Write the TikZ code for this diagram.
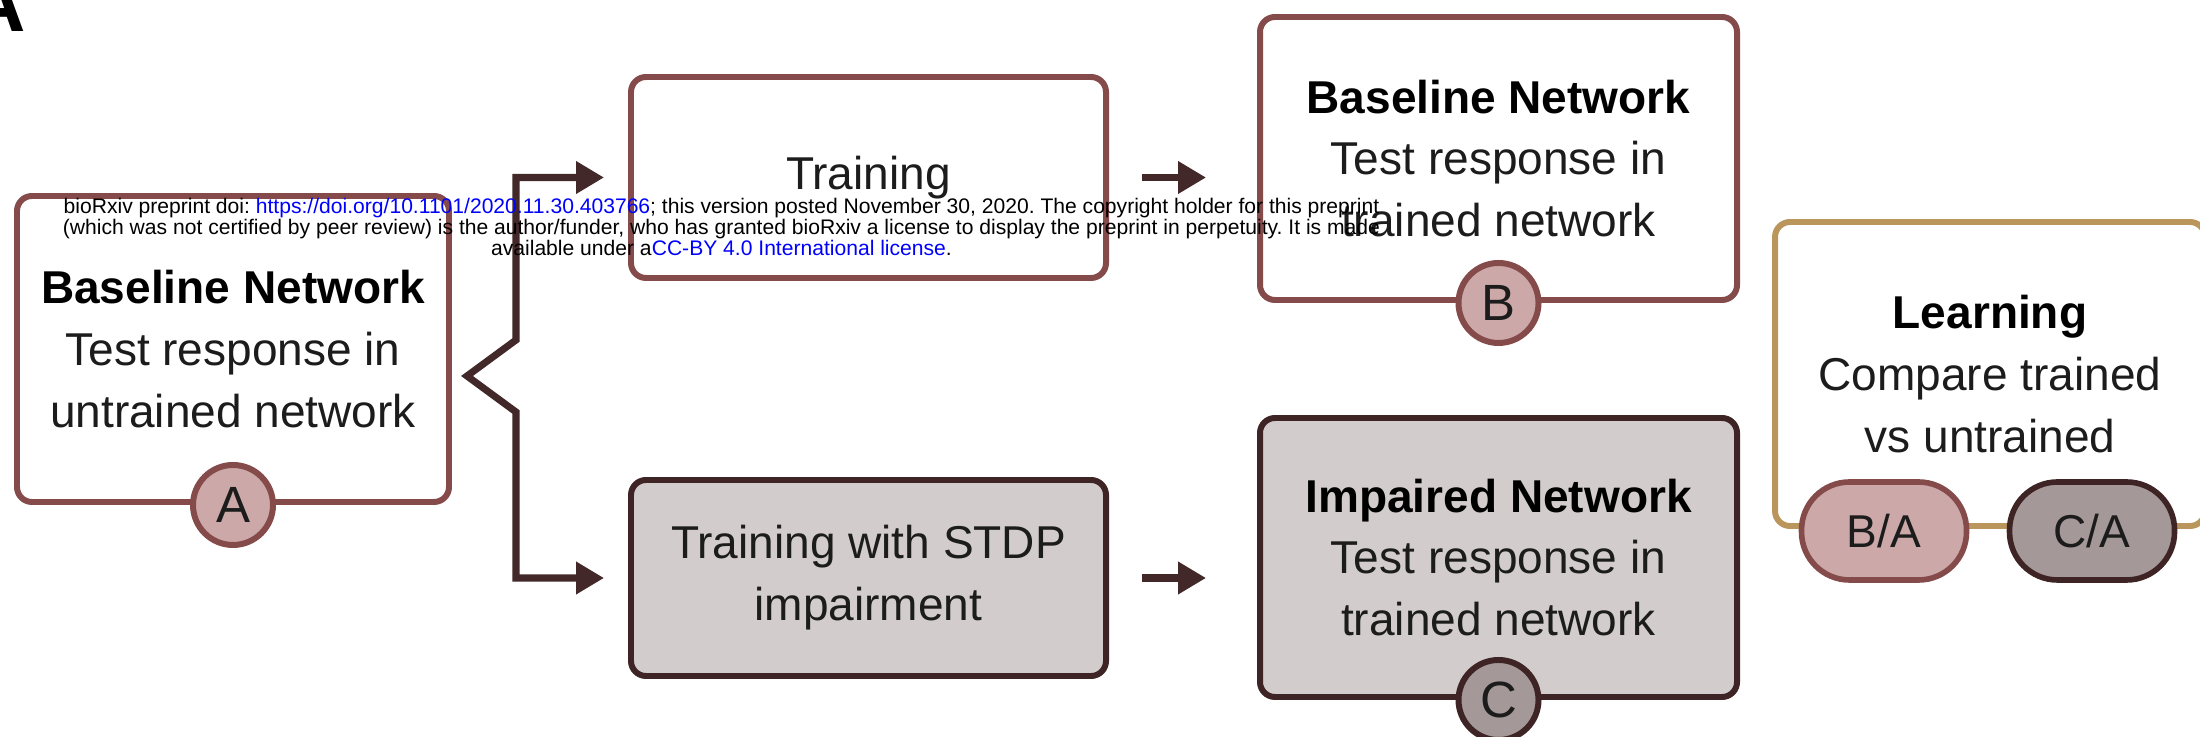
\documentclass[tikz,border=0pt]{standalone}
\usepackage{fontspec}
\setmainfont{Liberation Sans}
\usetikzlibrary{positioning}
\usetikzlibrary{arrows.meta}
\usetikzlibrary{calc}

\definecolor{boxred}{RGB}{133,74,74}
\definecolor{tagpink}{RGB}{204,168,168}
\definecolor{darkbrown}{RGB}{62,36,36}
\definecolor{impgray}{RGB}{210,204,204}
\definecolor{tagmauve}{RGB}{165,152,152}
\definecolor{learngold}{RGB}{186,150,92}
\definecolor{arrowbrown}{RGB}{66,40,40}
\definecolor{textgray}{RGB}{28,28,28}

\newcommand{\netfont}{\fontsize{13.1}{17.6}\selectfont}
\newcommand{\tagfont}{\fontsize{14.5}{16}\selectfont}

\tikzstyle{netbox}=[rectangle,rounded corners=0.15cm,draw=boxred,fill=white,line width=1.7pt,align=center,inner sep=0pt,text=textgray,font=\netfont]
\tikzstyle{impairedbox}=[netbox,draw=darkbrown,fill=impgray]
\tikzstyle{learnbox}=[netbox,draw=learngold]
\tikzstyle{tag}=[circle,draw=boxred,fill=tagpink,line width=1.7pt,minimum size=0.8cm,inner sep=0pt,text=textgray,font=\tagfont]
\tikzstyle{darktag}=[tag,draw=darkbrown,fill=tagmauve]
\tikzstyle{ratiotag}=[rectangle,rounded corners=0.48cm,draw=boxred,fill=tagpink,line width=1.6pt,minimum width=1.65cm,minimum height=0.98cm,inner sep=0pt,text=textgray,font=\netfont]
\tikzstyle{darkratiotag}=[ratiotag,draw=darkbrown,fill=tagmauve]
\tikzstyle{flow}=[draw=arrowbrown,line width=2pt,-{Triangle[length=0.28cm,width=0.31cm]}]
\tikzstyle{panel}=[font=\fontsize{23}{24}\selectfont\bfseries,inner sep=0pt,anchor=base east]

\frenchspacing

\begin{document}
\begin{tikzpicture}
\useasboundingbox (0,0) rectangle (22,-7.37);

\node[panel] (panel) at (0.27,-0.32) {A};

    % First we draw the boxes
\node[netbox,minimum width=4.32cm,minimum height=3.06cm] (netA) at (2.33,-3.49)
    {\textbf{\color{black}Baseline Network}\\Test response in\\untrained network};
\node[netbox,minimum width=4.75cm,minimum height=2.01cm] (train) at (8.685,-1.775) {Training};
\node[impairedbox,minimum width=4.75cm,minimum height=1.96cm] (stdp) at (8.685,-5.78)
    {Training with STDP\\impairment};
\node[netbox,minimum width=4.77cm,minimum height=2.83cm] (netB) at (14.985,-1.585)
    {\textbf{\color{black}Baseline Network}\\Test response in\\trained network};
\node[impairedbox,minimum width=4.77cm,minimum height=2.79cm] (netC) at (14.985,-5.575)
    {\textbf{\color{black}Impaired Network}\\Test response in\\trained network};
\node[learnbox,minimum width=4.3cm,minimum height=3.04cm] (learn) at (19.9,-3.74)
    {\textbf{\color{black}Learning}\\Compare trained\\vs untrained};

    % Then the letters sitting on the box edges
\foreach \parent/\name/\label/\kind in {netA/tagA/A/tag, netB/tagB/B/tag, netC/tagC/C/darktag}
    \node[\kind] (\name) at (\parent.south) {\label};

\node[ratiotag] (ratioB) at ($(learn.south west)+(1.12,-0.02)$) {B/A};
\node[darkratiotag] (ratioC) at ($(learn.south west)+(3.20,-0.02)$) {C/A};

    % Split from the untrained network into both trainings
\coordinate (split) at (4.67,-3.76);
\coordinate (spine) at (5.16,-3.76);
\draw[flow,{Triangle[length=0.28cm,width=0.31cm]}-{Triangle[length=0.28cm,width=0.31cm]},shorten <=0.24cm,shorten >=0.24cm]
    (train.west) -| ($(spine)+(0,0.36)$) -- (split) -- ($(spine)+(0,-0.36)$) |- (stdp.west);

    % Connect trainings with the tests
\foreach \source/\dest in {train/netB, stdp/netC}
    \draw[flow,shorten <=0.33cm,shorten >=0.51cm] (\source.east) -- (\source.east -| \dest.west);

\node[align=center,inner sep=0pt,font=\fontsize{6.0}{6.0}\selectfont] (stamp) at (7.215,-2.27)
    {bioRxiv preprint doi: \textcolor{blue}{https://doi.org/10.1101/2020.11.30.403766}; this version posted November 30, 2020. The copyright holder for this preprint\\
    (which was not certified by peer review) is the author/funder, who has granted bioRxiv a license to display the preprint in perpetuity. It is made\\
    available under a\textcolor{blue}{CC-BY 4.0 International license}.};
\end{tikzpicture}
\end{document}
